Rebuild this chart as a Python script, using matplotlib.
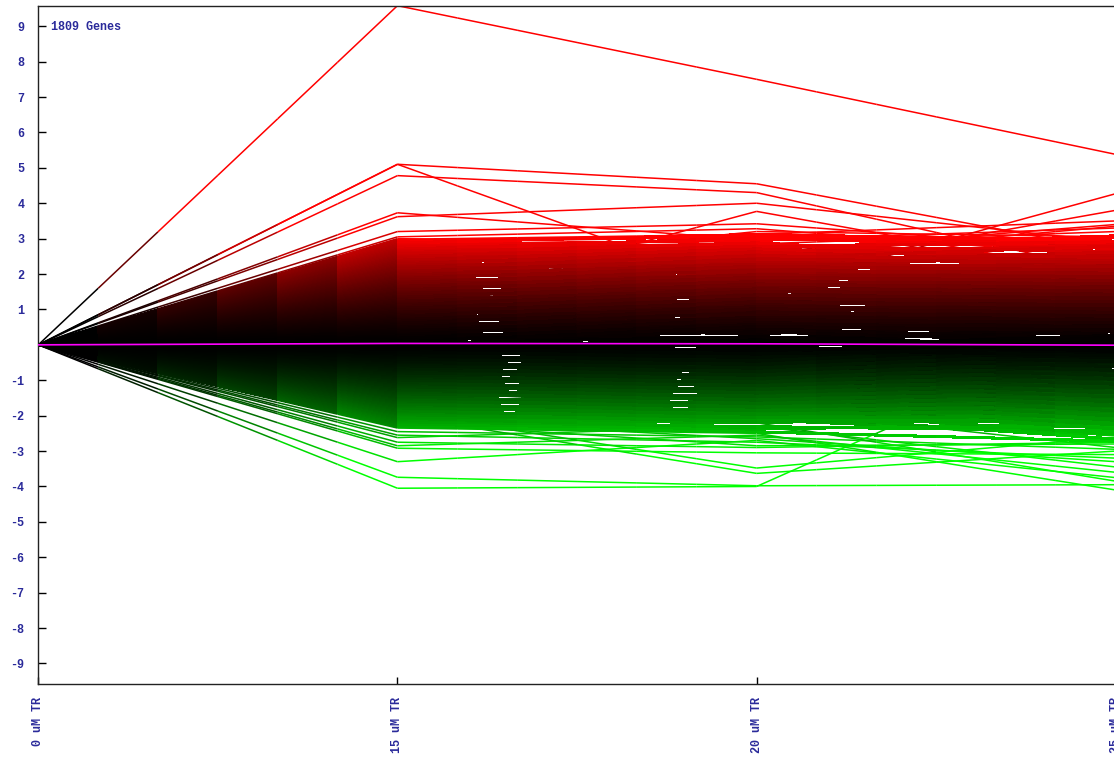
import numpy as np
import matplotlib
matplotlib.use('Agg')
import matplotlib.pyplot as plt
from matplotlib.collections import LineCollection

# conditions along the x axis (first one is the reference, log ratio 0)
conditions = ['0 uM TR', '15 uM TR', '20 uM TR', '25 uM TR']
gene_count_label = '1809 Genes'

# up-regulated bulk (log ratios at 15 / 20 / 25 uM)
pos_15 = [2.95, 2.91, 2.88, 2.84, 2.80, 2.77, 2.74, 2.70, 2.66, 2.63, 2.60, 2.57,
          2.53, 2.49, 2.46, 2.43, 2.39, 2.35, 2.32, 2.29, 2.25, 2.21, 2.18, 2.15,
          2.11, 2.07, 2.04, 2.01, 1.97, 1.93, 1.90, 1.87, 1.83, 1.79, 1.76, 1.73,
          1.69, 1.65, 1.62, 1.59, 1.55, 1.51, 1.48, 1.45, 1.41, 1.37, 1.34, 1.31,
          1.27, 1.23, 1.20, 1.17, 1.13, 1.09, 1.06, 1.03, 0.99, 0.95, 0.92, 0.89,
          0.85, 0.81, 0.78, 0.75, 0.71, 0.67, 0.64, 0.61, 0.57, 0.53, 0.50, 0.47,
          0.43, 0.39, 0.36, 0.33, 0.29, 0.25, 0.22, 0.19, 0.15, 0.11, 0.08, 0.04]
pos_20 = [3.05, 2.72, 3.12, 2.58, 2.96, 2.83, 2.49, 3.02, 2.77, 2.41, 2.88, 2.66,
          2.31, 2.79, 2.57, 2.18, 2.71, 2.44, 2.12, 2.63, 2.33, 1.98, 2.52, 2.27,
          1.88, 2.42, 2.13, 1.82, 2.28, 2.07, 1.68, 2.22, 1.93, 1.62, 2.11, 1.84,
          1.52, 1.98, 1.77, 1.38, 1.91, 1.63, 1.32, 1.79, 1.57, 1.18, 1.72, 1.43,
          1.12, 1.58, 1.36, 0.98, 1.52, 1.24, 0.92, 1.41, 1.13, 0.78, 1.31, 1.07,
          0.68, 1.22, 0.93, 0.62, 1.08, 0.87, 0.48, 1.02, 0.73, 0.42, 0.91, 0.63,
          0.32, 0.78, 0.57, 0.18, 0.72, 0.43, 0.12, 0.58, 0.37, -0.06, 0.52, 0.23]
pos_25 = [2.82, 3.08, 2.93, 2.55, 3.02, 2.41, 2.86, 2.72, 2.91, 2.58, 2.36, 2.77,
          2.49, 2.64, 2.21, 2.56, 2.44, 2.79, 2.31, 2.12, 2.62, 2.24, 2.38, 1.96,
          2.17, 2.33, 1.86, 2.06, 2.21, 1.76, 1.97, 2.11, 1.66, 1.87, 2.02, 1.54,
          1.76, 1.91, 1.46, 1.66, 1.81, 1.36, 1.56, 1.72, 1.26, 1.47, 1.61, 1.16,
          1.37, 1.52, 1.06, 1.26, 1.41, 0.96, 1.17, 1.31, 0.86, 1.06, 1.22, 0.76,
          0.96, 1.11, 0.66, 0.86, 1.01, 0.56, 0.77, 0.92, 0.46, 0.66, 0.81, 0.36,
          0.56, 0.71, 0.26, 0.46, 0.62, 0.16, 0.37, 0.52, 0.07, 0.27, 0.41, -0.04]

# down-regulated bulk
neg_15 = [-2.30, -2.27, -2.24, -2.20, -2.17, -2.14, -2.10, -2.07, -2.04, -2.01, -1.97, -1.94,
          -1.91, -1.87, -1.84, -1.81, -1.78, -1.74, -1.71, -1.68, -1.64, -1.61, -1.58, -1.55,
          -1.51, -1.48, -1.45, -1.41, -1.38, -1.35, -1.32, -1.28, -1.25, -1.22, -1.18, -1.15,
          -1.12, -1.09, -1.05, -1.02, -0.99, -0.95, -0.92, -0.89, -0.86, -0.82, -0.79, -0.76,
          -0.72, -0.69, -0.66, -0.63, -0.59, -0.56, -0.53, -0.49, -0.46, -0.43, -0.40, -0.36,
          -0.33, -0.30, -0.26, -0.23, -0.20, -0.17, -0.13, -0.10, -0.07, -0.05, -0.03, -0.02]
neg_20 = [-2.46, -2.12, -2.38, -1.96, -2.31, -2.19, -1.86, -2.34, -2.04, -1.77, -2.16, -1.93,
          -1.67, -2.06, -1.81, -1.57, -1.96, -1.72, -1.47, -1.86, -1.61, -1.38, -1.76, -1.52,
          -1.27, -1.66, -1.42, -1.18, -1.56, -1.31, -1.08, -1.46, -1.22, -0.97, -1.36, -1.12,
          -0.88, -1.26, -1.02, -0.78, -1.16, -0.91, -0.68, -1.06, -0.82, -0.58, -0.96, -0.72,
          -0.48, -0.86, -0.62, -0.38, -0.76, -0.52, -0.28, -0.66, -0.42, -0.18, -0.56, -0.32,
          -0.08, -0.46, -0.22, 0.04, -0.36, -0.12, 0.10, -0.26, -0.02, 0.14, -0.16, 0.06]
neg_25 = [-2.72, -2.54, -2.21, -2.66, -2.43, -2.07, -2.52, -2.31, -1.92, -2.37, -2.16, -1.81,
          -2.26, -2.02, -1.66, -2.13, -1.87, -1.53, -2.01, -1.74, -1.41, -1.86, -1.61, -1.27,
          -1.73, -1.47, -1.13, -1.61, -1.34, -1.02, -1.47, -1.21, -0.88, -1.36, -1.07, -0.76,
          -1.22, -0.96, -0.62, -1.11, -0.83, -0.51, -0.97, -0.71, -0.37, -0.86, -0.57, -0.27,
          -0.72, -0.46, -0.13, -0.61, -0.33, -0.02, -0.47, -0.22, 0.08, -0.36, -0.12, 0.15,
          -0.23, -0.03, 0.22, -0.14, 0.05, -0.31, 0.11, -0.08, 0.18, -0.19, 0.02, -0.05]

# strongly induced genes
up_15 = [9.58, 5.10, 4.78, 5.10, 1.05, 3.62, 3.73, 3.20, 0.80, 1.20, 3.05, 2.98, 2.62, 3.00, 2.20, 1.80]
up_20 = [7.50, 4.55, 4.30, 1.45, 3.77, 4.00, 2.96, 3.42, 1.50, 2.00, 3.28, 3.12, 2.45, 2.85, 3.20, 2.60]
up_25 = [5.38, 2.65, 2.05, 1.80, 1.95, 2.90, 3.30, 2.70, 4.27, 3.80, 2.50, 3.50, 3.35, 3.20, 3.05, 3.40]

# strongly repressed genes
down_15 = [-2.45, -2.55, -2.62, -2.75, -2.85, -2.92, -3.30, -3.74, -4.05, -2.00, -1.90, -2.35, -1.60, -2.20, -1.30, -2.10]
down_20 = [-2.60, -2.75, -2.30, -2.90, -2.55, -3.05, -2.70, -3.98, -4.00, -3.63, -3.48, -2.50, -2.20, -2.85, -1.80, -2.65]
down_25 = [-2.95, -3.20, -3.45, -2.75, -3.60, -3.10, -3.75, -3.95, 0.50, -3.00, -2.60, -4.10, -3.85, -2.80, -2.90, -3.30]

# average profile (magenta)
mean_profile = [0.0, 0.04, 0.03, -0.01]

label_blue = '#2a2a9a'
mono = dict(family='Liberation Mono', weight='bold', size=8.5, color=label_blue)


def level_colour(v):
    # black -> red for induced, black -> green for repressed
    a = min(1.0, abs(v) / 3.0) ** 1.4
    return (a, 0, 0) if v >= 0 else (0, a, 0)


def profile_segments(p15, p20, p25, steps=6):
    # each segment is drawn in a few steps, coloured by the level at the step start
    profiles = np.column_stack([np.zeros(len(p15)), p15, p20, p25])
    segs, cols = [], []
    for row in profiles:
        for i in range(len(conditions) - 1):
            for k in range(steps):
                t0, t1 = k / steps, (k + 1) / steps
                y0 = row[i] + (row[i + 1] - row[i]) * t0
                y1 = row[i] + (row[i + 1] - row[i]) * t1
                segs.append([(i + t0, y0), (i + t1, y1)])
                cols.append(level_colour(y0))
    return segs, cols


fig = plt.figure(figsize=(11.14, 7.57), dpi=100)
ax = fig.add_axes([0.03438, 0.0964, 0.9672, 0.8961])

# outliers first (thin), bulk on top of them
segs, cols = profile_segments(up_15 + down_15, up_20 + down_20, up_25 + down_25)
ax.add_collection(LineCollection(segs, colors=cols, linewidths=1.1, capstyle='butt'))

segs, cols = profile_segments(pos_15 + neg_15, pos_20 + neg_20, pos_25 + neg_25)
ax.add_collection(LineCollection(segs, colors=cols, linewidths=1.5, capstyle='butt',
                                 antialiaseds=False))

ax.plot(range(len(conditions)), mean_profile, color='#ff00ff', lw=1.2, zorder=5)

ax.set_xlim(0, len(conditions) - 1)
ax.set_ylim(-9.58, 9.58)

yt = [v for v in range(-9, 10) if v != 0]
ax.set_yticks(yt)
ax.set_yticklabels([str(v) for v in yt], fontdict=mono)
ax.set_xticks(range(len(conditions)))
ax.set_xticklabels(conditions, rotation=90, fontdict=mono)
ax.tick_params(axis='y', direction='in', length=6, width=1, pad=10)
ax.tick_params(axis='x', direction='in', length=5, width=1, pad=9)

for side in ['left', 'bottom', 'top']:
    ax.spines[side].set_linewidth(1.0)
    ax.spines[side].set_color('#222222')
ax.spines['right'].set_visible(False)

ax.text(0.0118, 0.9686, gene_count_label, transform=ax.transAxes,
        ha='left', va='center', fontdict=mono)

fig.savefig('out.png', dpi=100)
